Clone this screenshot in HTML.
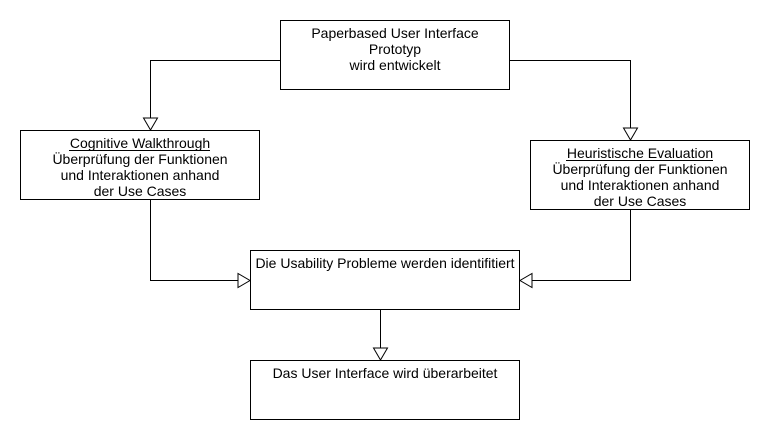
<!DOCTYPE html>
<html><head><meta charset="utf-8"><style>
body{margin:0;background:#fff;width:770px;height:440px;overflow:hidden}
svg text{font-family:"Liberation Sans",Arial,sans-serif;font-size:14px;fill:#000}
</style></head><body>
<svg width="770" height="440" viewBox="0 0 770 440" xmlns="http://www.w3.org/2000/svg">
<g fill="#fff" stroke="#000" stroke-width="1">
<rect x="280.5" y="20.5" width="229" height="69"/>
<rect x="20.5" y="130.5" width="239" height="69"/>
<rect x="530.5" y="140.5" width="219" height="69"/>
<rect x="250.5" y="250.5" width="269" height="59"/>
<rect x="250.5" y="360.5" width="269" height="59"/>
</g>
<g fill="none" stroke="#000" stroke-width="1">
<polyline points="280,60.5 150.5,60.5 150.5,118"/>
<polyline points="510,60.5 630.5,60.5 630.5,128"/>
<polyline points="150.5,200 150.5,280.5 238,280.5"/>
<polyline points="630.5,210 630.5,280.5 532,280.5"/>
<line x1="380.5" y1="310" x2="380.5" y2="348"/>
<polygon points="143.5,118 157.5,118 150.5,130" fill="#fff"/>
<polygon points="623.5,128 637.5,128 630.5,140" fill="#fff"/>
<polygon points="238,273.5 238,287.5 250,280.5" fill="#fff"/>
<polygon points="532,273.5 532,287.5 520,280.5" fill="#fff"/>
<polygon points="373.5,348 387.5,348 380.5,360" fill="#fff"/>
</g>
<g text-anchor="middle">
<text x="395" y="38">Paperbased User Interface</text>
<text x="395" y="54">Prototyp</text>
<text x="395" y="70">wird entwickelt</text>
<text x="140" y="148">Cognitive Walkthrough</text>
<text x="140" y="164">Überprüfung der Funktionen</text>
<text x="140" y="180">und Interaktionen anhand</text>
<text x="140" y="196">der Use Cases</text>
<text x="640" y="158">Heuristische Evaluation</text>
<text x="640" y="174">Überprüfung der Funktionen</text>
<text x="640" y="190">und Interaktionen anhand</text>
<text x="640" y="206">der Use Cases</text>
<text x="385" y="268">Die Usability Probleme werden identifitiert</text>
<text x="385" y="378">Das User Interface wird überarbeitet</text>
</g>
<g stroke="#000" stroke-width="1">
<line x1="69" y1="150.5" x2="210" y2="150.5"/>
<line x1="566" y1="160.5" x2="713" y2="160.5"/>
</g>
</svg>
</body></html>
